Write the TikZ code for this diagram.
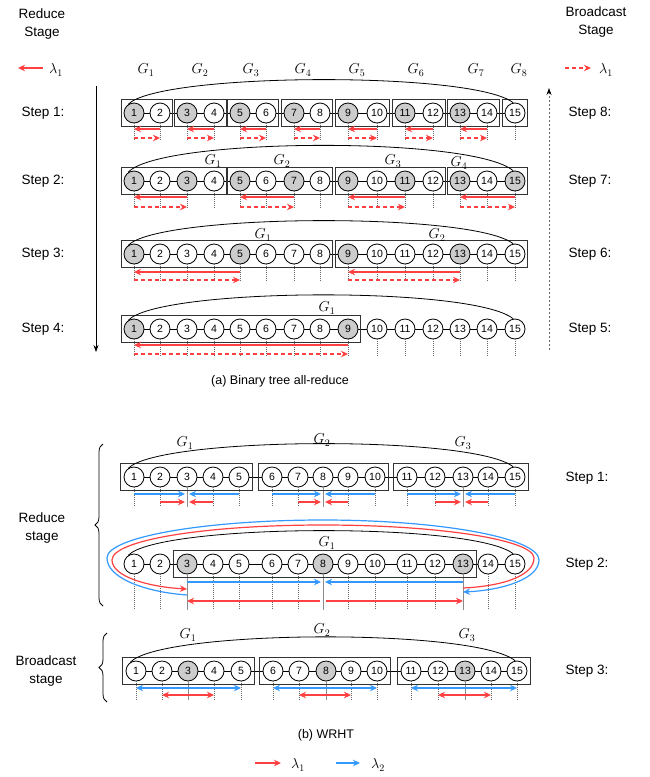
\documentclass[tikz,border=0pt]{standalone}
\usepackage{fontspec}
\setmainfont{Liberation Sans}
\usetikzlibrary{arrows.meta,fit,decorations.pathreplacing}
\definecolor{lred}{RGB}{255,64,64}
\definecolor{lblue}{RGB}{51,153,255}
\tikzset{
  pe/.style={shape=circle,draw,fill=white,minimum size=20pt,inner sep=0pt,line width=0.8pt,font=\fontsize{10.5}{11}\selectfont},
  pg/.style={pe,fill=black!20},
  grp/.style={draw=black!80,line width=0.9pt,inner xsep=2pt,inner ysep=3pt},
  grpb/.style={grp,inner sep=3pt},
  drop/.style={draw=black!60,line width=0.7pt,dash pattern=on 1pt off 1pt},
  dropc/.style={draw=black!45,line width=0.9pt},
  rs/.style={draw=lred,line width=1.2pt,-{Stealth[length=7pt,width=6.5pt]}},
  rd/.style={rs,dash pattern=on 4pt off 3pt},
  bs/.style={draw=lblue,line width=1.2pt,-{Stealth[length=7pt,width=6.5pt]}},
  lbl/.style={font=\fontsize{13.5}{18}\selectfont,align=center},
  captxt/.style={font=\fontsize{12.5}{15}\selectfont},
  glbl/.style={font=\fontsize{14.4}{15}\selectfont,inner sep=1pt}
}
% x positions of the 15 nodes
\def\xa{1/134,2/160,3/187,4/214,5/240,6/266,7/294,8/320,9/348,10/377,11/405,12/433,13/460,14/487,15/515}
\def\xb{1/134,2/160,3/187,4/213,5/239,6/272,7/298,8/323,9/348,10/375,11/407,12/435,13/463,14/488,15/515}
\def\xc{1/136,2/162,3/188,4/214,5/241,6/273,7/299,8/326,9/351,10/377,11/411,12/438,13/465,14/491,15/517}
% one row of nodes: name, y, gray test, x list
\newcommand{\noderow}[4]{%
  \foreach \i/\x in #4 {%
    \pgfmathtruncatemacro\g{#3}%
    \ifnum\g=1 \node(#1-\i) at (\x,#2)[pg] {\i};\else \node(#1-\i) at (\x,#2)[pe] {\i};\fi
  }%
  \foreach \i [evaluate=\i as \j using int(\i+1)] in {1,...,14} \draw[line width=0.8pt] (#1-\i) -- (#1-\j);%
}
% arc over a row: name, height of the control points
\newcommand{\toparc}[2]{%
  \draw[line width=0.8pt] (#1-1.125) .. controls ([xshift=30pt,yshift=#2]#1-1.125) and ([xshift=-40pt,yshift=#2]#1-15.100) .. (#1-15.100);%
}
\begin{document}
\begin{tikzpicture}[x=1pt,y=-1pt]
\useasboundingbox (0,0) rectangle (649,777);

% ---------- (a) binary tree ----------
\node(red-st) at (42,24)[lbl]{Reduce\\Stage};
\node(bc-st) at (596,22)[lbl]{Broadcast\\Stage};
\coordinate(la-s) at (43,68);
\coordinate(la-e) at (18,68);
\draw[rs] (la-s) -- (la-e);
\node(la) at (56,70)[glbl]{$\lambda_1$};
\coordinate(lb-s) at (565,68);
\coordinate(lb-e) at (591,68);
\draw[rd] (lb-s) -- (lb-e);
\node(lb) at (606,70)[glbl]{$\lambda_1$};
\foreach \k/\x in {1/146,2/200,3/251,4/303,5/357,6/416,7/476,8/519}
  \node(g0-\k) at (\x,70)[glbl]{$G_\k$};

\foreach \s/\y in {1/113,2/181,3/254,4/329} \node(sl\s) at (43,\y)[lbl]{Step \s:};
\foreach \s/\y in {8/113,7/181,6/254,5/329} \node(sr\s) at (590,\y)[lbl]{Step \s:};

\coordinate(rd-top) at (96,86);
\coordinate(rd-bot) at (96,352);
\draw[line width=0.8pt,-{Stealth[length=7pt,width=5pt]}] (rd-top) -- (rd-bot);
\coordinate(bc-bot) at (549,350);
\coordinate(bc-top) at (549,88);
\draw[black!60,line width=0.8pt,dash pattern=on 2pt off 2pt,-{Stealth[length=7pt,width=5pt,color=black]}] (bc-bot) -- (bc-top);

% step 1
\noderow{a1}{113}{and(mod(\i,2)==1,\i<15)}{\xa}
\foreach \i in {1,...,15} \draw[drop] (a1-\i.south) -- ++(0,17);
\foreach \i/\j in {1/2,3/4,5/6,7/8,9/10,11/12,13/14} {
  \node[grp,fit=(a1-\i)(a1-\j)] {};
  \draw[rs] ([yshift=-16pt]a1-\j.center) -- ([yshift=-16pt]a1-\i.center);
  \draw[rd] ([yshift=-25pt]a1-\i.center) -- ([yshift=-25pt]a1-\j.center);
}
\node[grp,fit=(a1-15)] {};
\toparc{a1}{32pt}

% step 2
\noderow{a2}{181}{mod(\i,2)==1}{\xa}
\foreach \i in {1,...,15} \draw[drop] (a2-\i.south) -- ++(0,17);
\foreach \i/\j/\k in {1/3/4,5/7/8,9/11/12,13/15/15} {
  \node[grp,fit=(a2-\i)(a2-\k)] {};
  \draw[rs] ([yshift=-16pt]a2-\j.center) -- ([yshift=-16pt]a2-\i.center);
  \draw[rd] ([yshift=-26pt]a2-\i.center) -- ([yshift=-26pt]a2-\j.center);
}
\toparc{a2}{35pt}
\foreach \k/\x/\y in {1/213/161,2/282/161,3/393/161,4/459/163}
  \node(g2-\k) at (\x,\y)[glbl]{$G_\k$};

% step 3
\noderow{a3}{254}{and(mod(\i,4)==1,\i<15)}{\xa}
\foreach \i in {1,...,15} \draw[drop] (a3-\i.south) -- ++(0,18);
\foreach \i/\j/\k in {1/5/8,9/13/15} {
  \node[grp,fit=(a3-\i)(a3-\k)] {};
  \draw[rs] ([yshift=-18pt]a3-\j.center) -- ([yshift=-18pt]a3-\i.center);
  \draw[rd] ([yshift=-26pt]a3-\i.center) -- ([yshift=-26pt]a3-\j.center);
}
\toparc{a3}{32pt}
\node(g3-1) at (263,235)[glbl]{$G_1$};
\node(g3-2) at (437,235)[glbl]{$G_2$};

% step 4
\noderow{a4}{329}{or(\i==1,\i==9)}{\xa}
\foreach \i in {1,...,15} \draw[drop] (a4-\i.south) -- ++(0,18);
\node[grp,fit=(a4-1)(a4-9)] {};
\draw[rs] ([yshift=-16pt]a4-9.center) -- ([yshift=-16pt]a4-1.center);
\draw[rd] ([yshift=-25pt]a4-1.center) -- ([yshift=-25pt]a4-9.center);
\toparc{a4}{33pt}
\node(g4-1) at (327,308)[glbl]{$G_1$};

\node(cap-a) at (280,381)[captxt]{(a) Binary tree all-reduce};

% ---------- (b) WRHT ----------
\coordinate(br1-b) at (103,606);
\coordinate(br1-t) at (103,444);
\draw[line width=0.8pt,decorate,decoration={brace,amplitude=8pt}] (br1-b) -- (br1-t);
\node(red-b) at (42,528)[lbl]{Reduce\\stage};
\coordinate(br2-b) at (107,702);
\coordinate(br2-t) at (107,633);
\draw[line width=0.8pt,decorate,decoration={brace,amplitude=8pt}] (br2-b) -- (br2-t);
\node(bc-b) at (46,671)[lbl]{Broadcast\\stage};

\node(sb1) at (587,478)[lbl]{Step 1:};
\node(sb2) at (587,564)[lbl]{Step 2:};
\node(sb3) at (587,671)[lbl]{Step 3:};

% step 1
\noderow{b1}{477}{0}{\xb}
\foreach \i in {1,2,4,5,6,7,9,10,11,12,14,15} \draw[drop] (b1-\i.south) -- ++(0,20);
\foreach \i in {3,8,13} \draw[dropc] (b1-\i.south) -- ++(0,20);
\foreach \m/\ea/\ia/\ib/\eb in {3/1/2/4/5,8/6/7/9/10,13/11/12/14/15} {
  \node[grpb,fit=(b1-\ea)(b1-\eb)] {};
  \draw[bs,shorten >=2pt] ([yshift=-17pt]b1-\ea.center) -- ([yshift=-17pt]b1-\m.center);
  \draw[bs,shorten >=2pt] ([yshift=-17pt]b1-\eb.center) -- ([yshift=-17pt]b1-\m.center);
  \draw[rs,shorten >=2pt] ([yshift=-25pt]b1-\ia.center) -- ([yshift=-25pt]b1-\m.center);
  \draw[rs,shorten >=2pt] ([yshift=-25pt]b1-\ib.center) -- ([yshift=-25pt]b1-\m.center);
}
\toparc{b1}{32pt}
\node(gb1-1) at (185,443)[glbl]{$G_1$};
\node(gb1-2) at (322,440)[glbl]{$G_2$};
\node(gb1-3) at (463,443)[glbl]{$G_3$};

% step 2
\noderow{b2}{564}{or(\i==3,or(\i==8,\i==13))}{\xb}
\foreach \i in {1,2,4,5,6,7,9,10,11,12,14,15} \draw[drop] (b2-\i.south) -- ++(0,36);
\foreach \i in {3,8,13} \draw[dropc] (b2-\i.south) -- ++(0,36);
\node[grpb,fit=(b2-3)(b2-13)] {};
\toparc{b2}{32pt}
\node(gb2-1) at (327,543)[glbl]{$G_1$};
\draw[bs,shorten >=2pt] ([yshift=-18pt]b2-3.center) -- ([yshift=-18pt]b2-8.center);
\draw[bs,shorten >=2pt] ([yshift=-18pt]b2-13.center) -- ([yshift=-18pt]b2-8.center);
\draw[rs,shorten <=3pt] ([yshift=-37pt]b2-8.center) -- ([yshift=-37pt]b2-3.center);
\draw[rs,shorten <=3pt] ([yshift=-37pt]b2-8.center) -- ([yshift=-37pt]b2-13.center);
\draw[rs] ([yshift=-24pt]b2-13.center) .. controls (505,586) and (534,575) .. (534,558)
  .. controls (534,540) and (440,525) .. (323,525) .. controls (206,525) and (112,540) .. (112,560)
  .. controls (112,577) and (150,587) .. ([yshift=-25pt]b2-3.center);
\draw[bs] ([yshift=-31pt]b2-3.center) .. controls (145,592) and (107,578) .. (107,558)
  .. controls (107,537) and (205,520) .. (323,520) .. controls (441,520) and (539,538) .. (539,560)
  .. controls (539,578) and (505,590) .. ([yshift=-28pt]b2-13.center);

% step 3
\noderow{b3}{671}{or(\i==3,or(\i==8,\i==13))}{\xc}
\foreach \i in {1,2,4,5,6,7,9,10,11,12,14,15} \draw[drop] (b3-\i.south) -- ++(0,19);
\foreach \i in {3,8,13} \draw[dropc] (b3-\i.south) -- ++(0,19);
\foreach \ea/\ia/\ib/\eb in {1/2/4/5,6/7/9/10,11/12/14/15} {
  \node[grpb,fit=(b3-\ea)(b3-\eb)] {};
  \draw[bs,{Stealth[length=7pt,width=6.5pt]}-{Stealth[length=7pt,width=6.5pt]}] ([yshift=-17pt]b3-\ea.center) -- ([yshift=-17pt]b3-\eb.center);
  \draw[rs,{Stealth[length=7pt,width=6.5pt]}-{Stealth[length=7pt,width=6.5pt]}] ([yshift=-24pt]b3-\ia.center) -- ([yshift=-24pt]b3-\ib.center);
}
\toparc{b3}{33pt}
\node(gb3-1) at (188,635)[glbl]{$G_1$};
\node(gb3-2) at (322,630)[glbl]{$G_2$};
\node(gb3-3) at (467,635)[glbl]{$G_3$};

\node(cap-b) at (326,735)[captxt]{(b) WRHT};
\coordinate(lr-s) at (255,763);
\coordinate(lr-e) at (281,763);
\draw[rs] (lr-s) -- (lr-e);
\node(l1) at (298,765)[glbl]{$\lambda_1$};
\coordinate(lbl-s) at (336,763);
\coordinate(lbl-e) at (360,763);
\draw[bs] (lbl-s) -- (lbl-e);
\node(l2) at (378,765)[glbl]{$\lambda_2$};
\end{tikzpicture}
\end{document}
